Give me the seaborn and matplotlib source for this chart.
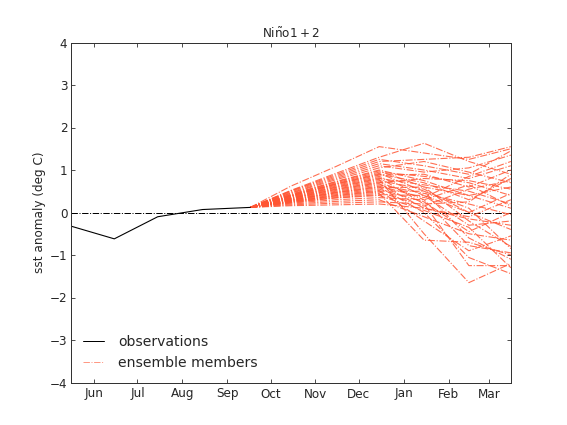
import pandas as pd
import matplotlib
matplotlib.use('Agg')
import matplotlib.pyplot as plt
import matplotlib.dates as mdates
from matplotlib.lines import Line2D
import seaborn as sns

# observed monthly anomalies
obs_dates = ['2016-05-16', '2016-06-15', '2016-07-15', '2016-08-15', '2016-09-17']
obs_vals = [-0.32, -0.62, -0.10, 0.07, 0.12]

# forecast nodes (first one is the last observation)
fc_dates = ['2016-09-17', '2016-10-15', '2016-11-15', '2016-12-15',
            '2017-01-15', '2017-02-15', '2017-03-16']
start_val = 0.12
oct_vals = [0.62, 0.52, 0.50, 0.48, 0.46, 0.45, 0.43, 0.42, 0.41, 0.40, 0.39, 0.39,
            0.38, 0.37, 0.36, 0.35, 0.34, 0.33, 0.33, 0.32, 0.31, 0.30, 0.29, 0.29,
            0.28, 0.27, 0.26, 0.26, 0.25, 0.24, 0.23, 0.22, 0.20, 0.18, 0.16, 0.51]
nov_vals = [1.08, 0.92, 0.86, 0.83, 0.80, 0.77, 0.73, 0.72, 0.70, 0.68, 0.67, 0.66,
            0.64, 0.62, 0.60, 0.59, 0.57, 0.55, 0.54, 0.52, 0.50, 0.48, 0.47, 0.46,
            0.44, 0.42, 0.40, 0.39, 0.37, 0.35, 0.34, 0.30, 0.26, 0.22, 0.18, 0.89]
dec_vals = [1.55, 1.30, 1.20, 1.15, 1.10, 1.05, 1.00, 0.98, 0.95, 0.92, 0.90, 0.88,
            0.85, 0.82, 0.80, 0.78, 0.75, 0.72, 0.70, 0.68, 0.65, 0.62, 0.60, 0.58,
            0.55, 0.52, 0.50, 0.48, 0.45, 0.42, 0.40, 0.35, 0.30, 0.25, 0.20, 1.25]
jan_vals = [1.40, 1.63, 1.25, 1.00, 0.95, 1.20, 0.75, 0.60, 0.85, 0.50, 0.70, 0.90,
            0.40, 0.20, 0.65, -0.50, 0.55, 0.30, 0.80, 0.10, 0.45, 0.35, 0.00, 0.60,
            0.25, -0.20, 0.50, 0.15, -0.65, 0.40, 0.05, 0.30, -0.10, 0.20, 0.10, 1.10]
feb_vals = [1.25, 1.20, 1.30, 0.80, 1.05, 0.95, 0.40, -0.20, 0.70, -0.60, 0.30, 0.60,
            -0.30, -1.25, 0.50, -1.65, 0.00, -0.78, 0.75, -0.10, 0.20, 0.85, -1.06, 0.40,
            -0.45, -0.90, 0.10, 0.55, -0.70, 0.00, -0.35, 0.65, -0.50, 0.25, -0.15, 0.90]
mar_vals = [1.50, 0.90, 1.55, 1.10, 1.35, 0.70, 0.10, -0.80, 0.40, -1.10, 0.80, 1.00,
            -0.20, -1.25, 0.20, -1.20, -0.40, -0.95, 0.55, 0.30, -0.05, 1.20, -1.44, 0.60,
            0.00, -0.55, -0.85, 0.75, -1.00, 0.45, -1.30, 0.15, -0.65, 0.90, -0.30, 1.45]

rows = []
for m in range(len(dec_vals)):
    vals = [start_val, oct_vals[m], nov_vals[m], dec_vals[m],
            jan_vals[m], feb_vals[m], mar_vals[m]]
    for d, v in zip(fc_dates, vals):
        rows.append({'member': m, 'date': pd.Timestamp(d), 'sst': v})
ens = pd.DataFrame(rows)
obs = pd.DataFrame({'date': pd.to_datetime(obs_dates), 'sst': obs_vals})

sns.set_style('ticks')
plt.rcParams.update({
    'font.family': ['DejaVu Sans'],
    'xtick.direction': 'in', 'ytick.direction': 'in',
    'xtick.top': True, 'ytick.right': True,
    'xtick.major.size': 4, 'ytick.major.size': 4,
    'xtick.labelsize': 12, 'ytick.labelsize': 12,
    'axes.edgecolor': '#333333', 'axes.linewidth': 1.0,
})

ens_color = '#ff5533'
fig = plt.figure(figsize=(567 / 72, 425 / 72), dpi=72)
ax = fig.add_axes([0.125, 0.1, 0.776, 0.8])

ax.axhline(0, color='k', ls='-.', lw=1)
sns.lineplot(data=ens, x='date', y='sst', units='member', estimator=None,
             color=ens_color, ls='-.', lw=1.1, alpha=0.85, ax=ax, legend=False)
sns.lineplot(data=obs, x='date', y='sst', color='k', lw=1.1, ax=ax, legend=False)

ax.set_xlim(pd.Timestamp('2016-05-16'), pd.Timestamp('2017-03-16'))
ax.set_ylim(-4, 4)
ax.set_yticks(range(-4, 5))
ax.xaxis.set_major_locator(mdates.MonthLocator())
ax.xaxis.set_major_formatter(mdates.DateFormatter('%b'))
ax.set_xlabel('')
ax.set_ylabel('sst anomaly (deg C)', fontsize=12)
ax.set_title(r'$\mathrm{Ni\tilde{n}o1+2}$', fontsize=12, pad=5)
ax.tick_params(axis='x', pad=5)

handles = [Line2D([], [], color='k', lw=1),
           Line2D([], [], color=ens_color, ls='-.', lw=1, alpha=0.6)]
ax.legend(handles, ['observations', 'ensemble members'], loc='lower left',
          frameon=False, fontsize=14, handlelength=1.5, handletextpad=1.0)

fig.savefig('out.png', dpi=72)
